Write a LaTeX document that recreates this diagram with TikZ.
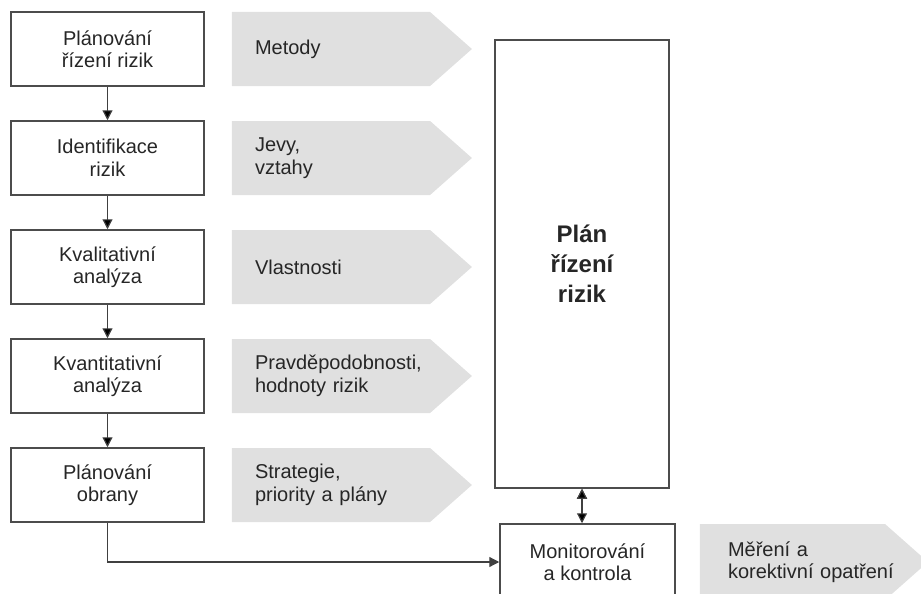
\documentclass[tikz,border=0pt]{standalone}
\usepackage{fontspec}
\setmainfont{Liberation Sans}
\usetikzlibrary{positioning,shapes.symbols,arrows.meta}

\begin{document}
\begin{tikzpicture}[node distance=109pt,on grid,
    >={Triangle[length=10pt,width=10pt]},
    every node/.style={font=\fontsize{20}{22.5}\selectfont,text=black!85},
    krok/.style={draw=black!70,line width=1.5pt,minimum width=193pt,minimum height=74pt,align=center},
    vystup/.style={signal,signal to=east,signal pointer angle=83,fill=black!12,
        minimum width=240pt,minimum height=74pt,inner xsep=23pt,text width=152pt,align=left}]
	\useasboundingbox (0,0) rectangle (921pt,-594pt);
	\clip (0,0) rectangle (921pt,-594pt);
	% kroky
	\node[krok] (k_1) at (107.5pt,-49pt) {Plánování\\řízení rizik};
	\node[krok] (k_2) [below=of k_1] {Identifikace\\rizik};
	\node[krok] (k_3) [below=of k_2] {Kvalitativní\\analýza};
	\node[krok] (k_4) [below=of k_3] {Kvantitativní\\analýza};
	\node[krok] (k_5) [below=of k_4] {Plánování\\obrany};
	% vystupy
	\node[vystup] (g_1) [right=223.5pt of k_1] {Metody};
	\node[vystup] (g_2) [right=223.5pt of k_2] {Jevy,\\vztahy};
	\node[vystup] (g_3) [right=223.5pt of k_3] {Vlastnosti};
	\node[vystup] (g_4) [right=223.5pt of k_4] {Pravděpodobnosti,\\hodnoty rizik};
	\node[vystup] (g_5) [right=223.5pt of k_5] {Strategie,\\priority a plány};
	% plan a monitorovani
	\node[draw=black!70,line width=1.5pt,minimum width=174pt,minimum height=448pt,align=center,
	    font=\bfseries\fontsize{24}{30}\selectfont] (plan) at (582pt,-264pt) {Plán\\řízení\\rizik};
	\node[krok,minimum width=175pt,minimum height=76pt] (mon) at (587.5pt,-562pt) {Monitorování\\a kontrola};
	\node[vystup,minimum width=228pt,minimum height=76pt,inner xsep=28pt,text width=129pt]
	    (g_6) [right=205pt of mon] {Měření a\\\mbox{korektivní opatření}};
	\path[->,draw=black!75,line width=1.2pt]
	(k_1) edge (k_2)
	(k_2) edge (k_3)
	(k_3) edge (k_4)
	(k_4) edge (k_5)
	(plan.south) edge[<->] (plan.south |- mon.north);
	\draw[->,black!75,line width=1.2pt] (k_5) |- (mon);
\end{tikzpicture}
\end{document}
